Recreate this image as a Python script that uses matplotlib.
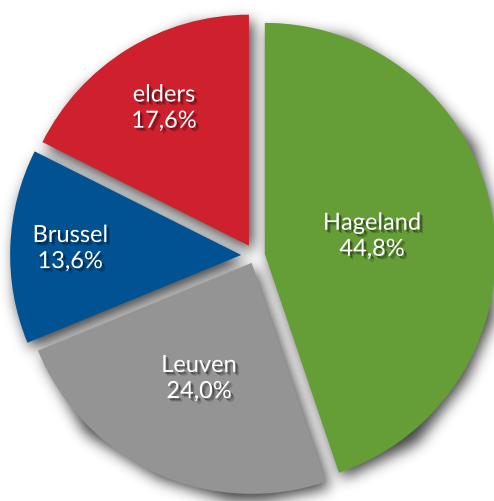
import numpy as np
import matplotlib
matplotlib.use("Agg")
import matplotlib.pyplot as plt
import matplotlib.patheffects as pe

# ---- data ----
categories = ["Hageland", "Leuven", "Brussel", "elders"]
values = [44.8, 24.0, 13.6, 17.6]
value_labels = ["44,8%", "24,0%", "13,6%", "17,6%"]
colors = ["#659d37", "#949494", "#005293", "#cf202e"]
explode = [0.043, 0.035, 0.06, 0.05]
label_dist = [0.47, 0.55, 0.74, 0.70]

W, H = 494, 501
R_PX = 231.0
CX, CY = 255.0, 255.5  # pixel position of pie center (from top-left)

fig = plt.figure(figsize=(W / 100, H / 100), dpi=100)
ax = fig.add_axes([0, 0, 1, 1])
plt.rcParams['font.family'] = ['Lato', 'DejaVu Sans']

wedges, _ = ax.pie(values, colors=colors, startangle=90, counterclock=False,
                   explode=explode, radius=1, center=(0, 0),
                   wedgeprops=dict(linewidth=0, zorder=2))

xlim = (-CX / R_PX, (W - CX) / R_PX)
ylim = (-(H - CY) / R_PX, CY / R_PX)
ax.set_xlim(*xlim)
ax.set_ylim(*ylim)
ax.set_aspect('auto')
ax.axis('off')

# ---- soft drop shadow computed from the wedge paths ----
ny, nx = H, W
xs = xlim[0] + (np.arange(nx) + 0.5) / R_PX
ys = ylim[1] - (np.arange(ny) + 0.5) / R_PX
gx, gy = np.meshgrid(xs, ys)
pts = np.column_stack([gx.ravel(), gy.ravel()])
off = np.array([4.0, -6.0]) / R_PX
mask = np.zeros(ny * nx, dtype=float)
for w in wedges:
    path = w.get_patch_transform().transform_path(w.get_path())
    mask = np.maximum(mask, path.contains_points(pts - off).astype(float))
mask = mask.reshape(ny, nx)

def gauss_blur(img, sigma):
    r = int(3 * sigma)
    k = np.exp(-0.5 * (np.arange(-r, r + 1) / sigma) ** 2)
    k /= k.sum()
    p = np.pad(img, r, mode='constant')
    tmp = np.apply_along_axis(lambda m: np.convolve(m, k, mode='valid'), 1, p)
    out = np.apply_along_axis(lambda m: np.convolve(m, k, mode='valid'), 0, tmp)
    return out

blur = gauss_blur(mask, 7.0)
rgba = np.zeros((ny, nx, 4))
rgba[..., 3] = np.clip(blur * 0.75, 0, 1)
ax.imshow(rgba, extent=(xlim[0], xlim[1], ylim[0], ylim[1]), origin='upper',
          zorder=1, interpolation='bilinear', aspect='auto')

# ---- labels ----
shadow = [pe.SimplePatchShadow(offset=(1.5, -1.5), shadow_rgbFace='black', alpha=0.35),
          pe.SimplePatchShadow(offset=(2.5, -2.5), shadow_rgbFace='black', alpha=0.2),
          pe.Normal()]
for w, cat, vl, ld in zip(wedges, categories, value_labels, label_dist):
    th = np.deg2rad(0.5 * (w.theta1 + w.theta2))
    cx, cy = w.center
    x = cx + ld * np.cos(th)
    y = cy + ld * np.sin(th)
    ax.text(x, y, f"{cat}\n{vl}", ha='center', va='center', color='white',
            fontsize=17, linespacing=1.3, zorder=5, path_effects=shadow)

fig.savefig("out.png", dpi=100)
